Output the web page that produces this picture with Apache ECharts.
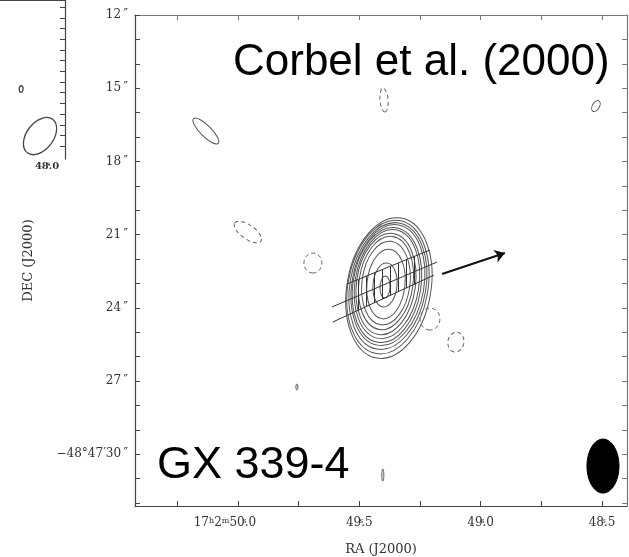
<!DOCTYPE html>
<html>
<head>
<meta charset="utf-8">
<title>GX 339-4</title>
<script src="https://cdn.jsdelivr.net/npm/echarts@6.0.0/dist/echarts.min.js"></script>
<style>
  html, body { margin: 0; padding: 0; background: #fff; }
  #chart { width: 629px; height: 557px; }
</style>
</head>
<body>
<div id="chart"></div>
<script>
// RA in seconds past 17h02m, Dec in arcsec past -48d47m
const raRange = [48.397, 50.424];
const decRange = [12, 32.12];

const xTickValues = [48.5, 48.75, 49.0, 49.25, 49.5, 49.75, 50.0, 50.25];
const xLabelValues = [48.5, 49.0, 49.5, 50.0];
// rich-text markup: n = normal, s = superscript, z = superscript sitting over the decimal point
const xLabelTexts = [
  "{n|48}{z|s}{n|.5}",
  "{n|49}{z|s}{n|.0}",
  "{n|49}{z|s}{n|.5}",
  "{n|17}{s|h}{n|2}{s|m}{n|50}{z|s}{n|.0}{p|}"
];

const yTickValues = [12, 13, 14, 15, 16, 17, 18, 19, 20, 21, 22, 23, 24, 25, 26, 27, 28, 29, 30, 31, 32];
const yLabelValues = [12, 15, 18, 21, 24, 27, 30];
const yLabelTexts = ["12\u2009″", "15\u2009″", "18\u2009″", "21\u2009″", "24\u2009″", "27\u2009″", "−48°47′30\u2009″"];

// contours: [ra, dec, semi-major ("), semi-minor ("), angle of major axis (deg, ccw)]
const sourceContours = [
  [49.378, 23.189, 2.910, 1.721, 80],
  [49.382, 23.148, 2.766, 1.639, 80],
  [49.382, 23.107, 2.623, 1.557, 80],
  [49.382, 23.066, 2.500, 1.475, 80],
  [49.386, 23.066, 2.377, 1.393, 81],
  [49.386, 23.025, 2.254, 1.311, 81],
  [49.390, 23.025, 2.090, 1.209, 82],
  [49.390, 22.984, 1.926, 1.107, 82],
  [49.390, 22.984, 1.721, 0.984, 83],
  [49.390, 23.025, 1.434, 0.779, 84],
  [49.394, 23.066, 0.902, 0.492, 85],
  [49.394, 23.148, 0.451, 0.205, 88]
];

const positiveBlobs = [
  [50.132, 16.754, 0.717, 0.225, -45],
  [48.525, 15.730, 0.246, 0.143, 60],
  [49.757, 27.246, 0.123, 0.041, 90],
  [49.403, 30.852, 0.246, 0.041, 90]
];

const negativeContours = [
  [49.959, 20.893, 0.656, 0.287, -35],
  [49.691, 22.164, 0.410, 0.369, 90],
  [49.209, 24.459, 0.451, 0.410, 90],
  [49.102, 25.402, 0.410, 0.328, 80],
  [49.398, 15.484, 0.492, 0.164, 95]
];

const beam = [[48.496, 30.484, 1.107, 0.656, 90]];

// hatched lines across the core
const hatchLines = [
  [[49.551, 23.025], [49.209, 21.631]],
  [[49.613, 23.967], [49.180, 22.123]],
  [[49.609, 24.582], [49.192, 22.656]],
  [[49.506, 22.840], [49.506, 24.107]],
  [[49.473, 22.705], [49.473, 23.955]],
  [[49.440, 22.570], [49.440, 23.803]],
  [[49.407, 22.439], [49.407, 23.652]],
  [[49.374, 22.303], [49.374, 23.496]],
  [[49.341, 22.168], [49.341, 23.344]],
  [[49.308, 22.033], [49.308, 23.193]],
  [[49.275, 21.898], [49.275, 23.041]]
];

const motionArrow = [[[49.159, 22.615], [48.900, 21.754]]];

// left inset (cropped neighbouring panel)
const insetRange = [47.944, 48.147];
const insetDecRange = [0, 7.43];
const insetXTicks = [48.0, 48.1];
const insetYTicks = [0.33, 0.83, 1.33, 1.83, 2.33, 2.83, 3.33, 3.83, 4.33, 4.83, 5.33, 5.83, 6.33, 6.83];
const insetContours = [
  [48.022, 6.36, 0.98, 0.63, 53],
  [48.081, 4.16, 0.16, 0.09, 90]
];

const serif = "DejaVu Serif";
const axisColor = "#444";

function ellipseRenderer(style) {
  return function (params, api) {
    const c = api.coord([api.value(0), api.value(1)]);
    const a = Math.abs(api.size([0, api.value(2)])[1]);
    const b = Math.abs(api.size([0, api.value(3)])[1]);
    return {
      type: "ellipse",
      x: c[0],
      y: c[1],
      rotation: api.value(4) * Math.PI / 180,
      shape: { cx: 0, cy: 0, rx: a, ry: b },
      style: style
    };
  };
}

function labelFor(values, texts) {
  return function (v) {
    for (let i = 0; i < values.length; i++) {
      if (Math.abs(values[i] - v) < 1e-6) return texts[i];
    }
    return "";
  };
}

function sexaRich(size, weight) {
  return {
    n: { fontFamily: serif, fontSize: size, fontWeight: weight, color: "#333" },
    s: { fontFamily: serif, fontSize: size - 4, fontWeight: weight, color: "#333", verticalAlign: "top" },
    z: { fontFamily: serif, fontSize: size - 4, fontWeight: weight, color: "#333", verticalAlign: "top", width: 0 },
    p: { width: 26 }
  };
}

const chart = echarts.init(document.getElementById("chart"));

const option = {
  animation: false,
  backgroundColor: "#fff",
  grid: [
    { left: 135, top: 15, right: 2, bottom: 51, outerBoundsMode: "none" },
    { left: 0, top: 0, width: 65, height: 159, outerBoundsMode: "none" }
  ],
  xAxis: [
    {
      type: "value", gridIndex: 0, position: "bottom",
      min: raRange[0], max: raRange[1], inverse: true,
      axisLine: { show: true, lineStyle: { color: axisColor, width: 1.2 } },
      axisTick: { show: true, inside: true, length: 5, customValues: xTickValues, lineStyle: { color: axisColor } },
      axisLabel: {
        customValues: xLabelValues,
        margin: 11,
        formatter: labelFor(xLabelValues, xLabelTexts),
        rich: sexaRich(12, "normal")
      },
      splitLine: { show: false },
      name: "RA (J2000)", nameLocation: "middle", nameGap: 37,
      nameTextStyle: { fontFamily: serif, fontSize: 13, color: "#333" }
    },
    {
      type: "value", gridIndex: 0, position: "top",
      min: raRange[0], max: raRange[1], inverse: true,
      axisLine: { show: true, lineStyle: { color: "#777", width: 1.2 } },
      axisTick: { show: true, inside: true, length: 5, customValues: xTickValues, lineStyle: { color: "#777" } },
      axisLabel: { show: false },
      splitLine: { show: false }
    },
    {
      type: "value", gridIndex: 1, position: "bottom",
      min: insetRange[0], max: insetRange[1], inverse: true,
      axisLine: { show: true, lineStyle: { color: axisColor, width: 1.2 } },
      axisTick: { show: true, inside: true, length: 5, customValues: insetXTicks, lineStyle: { color: axisColor } },
      axisLabel: {
        customValues: [48.0], margin: 2,
        formatter: function () { return "{n|48}{z|s}{n|.0}"; },
        rich: sexaRich(10, "bold")
      },
      splitLine: { show: false }
    }
  ],
  yAxis: [
    {
      type: "value", gridIndex: 0, position: "left",
      min: decRange[0], max: decRange[1], inverse: true,
      axisLine: { show: true, lineStyle: { color: axisColor, width: 1.2 } },
      axisTick: { show: true, inside: true, length: 5, customValues: yTickValues, lineStyle: { color: axisColor } },
      axisLabel: {
        customValues: yLabelValues,
        margin: 7,
        formatter: labelFor(yLabelValues, yLabelTexts),
        fontFamily: serif, fontSize: 12, color: "#333"
      },
      splitLine: { show: false },
      name: "DEC (J2000)", nameLocation: "middle", nameGap: 100, nameRotate: 90,
      nameTextStyle: { fontFamily: serif, fontSize: 13, color: "#333" }
    },
    {
      type: "value", gridIndex: 0, position: "right",
      min: decRange[0], max: decRange[1], inverse: true,
      axisLine: { show: true, lineStyle: { color: "#777", width: 1.2 } },
      axisTick: { show: true, inside: true, length: 5, customValues: yTickValues, lineStyle: { color: "#777" } },
      axisLabel: { show: false },
      splitLine: { show: false }
    },
    {
      type: "value", gridIndex: 1, position: "right",
      min: insetDecRange[0], max: insetDecRange[1], inverse: true,
      axisLine: { show: true, lineStyle: { color: axisColor, width: 1.2 } },
      axisTick: { show: true, inside: true, length: 5, customValues: insetYTicks, lineStyle: { color: axisColor } },
      axisLabel: { show: false },
      splitLine: { show: false }
    }
  ],
  series: [
    {
      name: "source", type: "custom", xAxisIndex: 0, yAxisIndex: 0,
      data: sourceContours, encode: { x: 0, y: 1 },
      renderItem: ellipseRenderer({ fill: "none", stroke: "#555", lineWidth: 1 })
    },
    {
      name: "positive", type: "custom", xAxisIndex: 0, yAxisIndex: 0,
      data: positiveBlobs, encode: { x: 0, y: 1 },
      renderItem: ellipseRenderer({ fill: "none", stroke: "#555", lineWidth: 1 })
    },
    {
      name: "negative", type: "custom", xAxisIndex: 0, yAxisIndex: 0,
      data: negativeContours, encode: { x: 0, y: 1 },
      renderItem: ellipseRenderer({ fill: "none", stroke: "#666", lineWidth: 1, lineDash: [4, 3] })
    },
    {
      name: "beam", type: "custom", xAxisIndex: 0, yAxisIndex: 0,
      data: beam, encode: { x: 0, y: 1 },
      renderItem: ellipseRenderer({ fill: "#000", stroke: "#000", lineWidth: 1 })
    },
    {
      name: "hatch", type: "lines", coordinateSystem: "cartesian2d", xAxisIndex: 0, yAxisIndex: 0,
      data: hatchLines.map(function (c) { return { coords: c }; }),
      symbol: ["none", "none"],
      lineStyle: { color: "#333", width: 1, opacity: 1 }
    },
    {
      name: "motion", type: "lines", coordinateSystem: "cartesian2d", xAxisIndex: 0, yAxisIndex: 0,
      data: motionArrow.map(function (c) { return { coords: c }; }),
      symbol: ["none", "arrow"], symbolSize: 10,
      lineStyle: { color: "#111", width: 2, opacity: 1 }
    },
    {
      name: "inset", type: "custom", xAxisIndex: 2, yAxisIndex: 2,
      data: insetContours, encode: { x: 0, y: 1 },
      renderItem: ellipseRenderer({ fill: "none", stroke: "#444", lineWidth: 1.3 })
    }
  ],
  graphic: [
    {
      type: "text", left: 233, top: 41,
      style: { text: "Corbel et al. (2000)", fontFamily: "Liberation Sans", fontSize: 44, fill: "#000" }
    },
    {
      type: "text", left: 157, top: 443,
      style: { text: "GX 339-4", fontFamily: "Liberation Sans", fontSize: 45, fill: "#000" }
    }
  ]
};

chart.setOption(option);
</script>
</body>
</html>
